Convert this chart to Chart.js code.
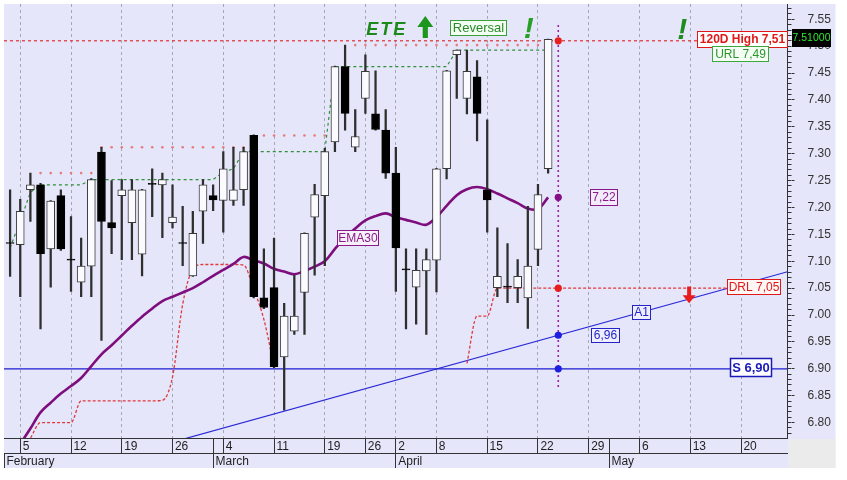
<!DOCTYPE html>
<html><head><meta charset="utf-8">
<script src="https://cdn.jsdelivr.net/npm/chart.js@4.4.1/dist/chart.umd.min.js"></script>
<style>html,body{margin:0;padding:0;background:#fff;overflow:hidden}canvas{display:block}</style>
</head><body>
<canvas id="c" width="847" height="480"></canvas>
<script>
// ---------- DATA ----------
const dates = ['2024-02-02',
 '2024-02-05','2024-02-06','2024-02-07','2024-02-08','2024-02-09',
 '2024-02-12','2024-02-13','2024-02-14','2024-02-15','2024-02-16',
 '2024-02-19','2024-02-20','2024-02-21','2024-02-22','2024-02-23',
 '2024-02-26','2024-02-27','2024-02-28','2024-02-29','2024-03-01',
 '2024-03-04','2024-03-05','2024-03-06','2024-03-07','2024-03-08',
 '2024-03-11','2024-03-12','2024-03-13','2024-03-14','2024-03-15',
 '2024-03-19','2024-03-20','2024-03-21','2024-03-22',
 '2024-03-26','2024-03-27','2024-03-28',
 '2024-04-02','2024-04-03','2024-04-04','2024-04-05',
 '2024-04-08','2024-04-09','2024-04-10','2024-04-11','2024-04-12',
 '2024-04-15','2024-04-16','2024-04-17','2024-04-18','2024-04-19',
 '2024-04-22','2024-04-23','2024-04-24','2024-04-25','2024-04-26',
 '2024-04-29','2024-04-30','2024-05-01','2024-05-02','2024-05-03',
 '2024-05-06','2024-05-07','2024-05-08','2024-05-09','2024-05-10',
 '2024-05-13','2024-05-14','2024-05-15','2024-05-16','2024-05-17',
 '2024-05-20','2024-05-21','2024-05-22','2024-05-23','2024-05-24'];

const open  = [7.135,7.131,7.233,7.242,7.123,7.222,7.104,7.061,7.091,7.303,
 7.172,7.222,7.172,7.113,7.245,7.242,7.172,7.135,7.073,7.193,
 7.222,7.213,7.213,7.233,7.334,7.032,7.051,6.922,6.970,7.042,
 7.182,7.222,7.322,7.462,7.312,7.403,7.374,7.344,7.264,7.086,
 7.052,7.082,7.102,7.272,7.484,7.403,7.443,7.233,7.051,7.054,
 7.051,7.032,7.122,7.272];
const high  = [7.233,7.215,7.264,7.245,7.213,7.233,7.183,7.143,7.254,7.312,
 7.250,7.252,7.252,7.234,7.272,7.264,7.242,7.202,7.193,7.252,
 7.242,7.304,7.312,7.312,7.335,7.123,7.143,7.022,7.074,7.153,
 7.243,7.310,7.463,7.502,7.382,7.484,7.454,7.382,7.312,7.123,
 7.123,7.123,7.273,7.455,7.493,7.4925,7.473,7.363,7.162,7.133,
 7.103,7.202,7.243,7.513];
const low   = [7.072,7.034,7.174,6.974,7.052,7.120,7.044,7.034,7.034,6.953,
 7.114,7.103,7.103,7.073,7.183,7.144,7.162,7.092,7.072,7.133,
 7.194,7.154,7.204,7.204,7.032,7.012,6.902,6.823,6.964,6.964,
 7.074,7.092,7.304,7.344,7.304,7.375,7.344,7.254,7.044,6.974,
 6.983,6.964,7.043,7.253,7.403,7.374,7.324,7.154,7.034,7.023,
 7.023,6.975,7.092,7.264];
const close = [7.133,7.193,7.242,7.114,7.212,7.123,7.102,7.091,7.252,7.174,
 7.162,7.233,7.233,7.233,7.243,7.252,7.182,7.133,7.152,7.242,
 7.214,7.272,7.233,7.304,7.034,7.014,6.904,6.998,6.998,7.152,
 7.224,7.304,7.462,7.375,7.332,7.453,7.345,7.264,7.125,7.084,
 7.083,7.103,7.272,7.454,7.4925,7.453,7.375,7.214,7.072,7.052,
 7.072,7.091,7.224,7.5125];
const ema30 = [6.730,6.760,6.789,6.819,6.837,6.854,6.868,6.883,6.905,6.927,
 6.944,6.962,6.980,6.997,7.012,7.026,7.034,7.042,7.050,7.061,
 7.073,7.084,7.095,7.108,7.102,7.096,7.086,7.081,7.076,7.082,
 7.090,7.100,7.123,7.144,7.161,7.176,7.184,7.189,7.182,7.177,
 7.172,7.168,7.182,7.203,7.223,7.234,7.238,7.234,7.226,7.217,
 7.208,7.198,7.197,7.219];
const urlLine = [7.125,7.175,7.228,7.242,7.242,7.242,7.242,7.242,7.252,7.252,
 7.252,7.252,7.252,7.252,7.252,7.252,7.252,7.252,7.252,7.252,
 7.252,7.266,7.272,7.304,7.304,7.304,7.304,7.304,7.304,7.304,
 7.304,7.304,7.462,7.462,7.462,7.462,7.462,7.462,7.462,7.462,
 7.462,7.462,7.462,7.462,7.4925,7.4925,7.4925,7.4925,7.4925,7.4925,
 7.4925,7.4925,7.4925,7.4925];
const prevHigh = [null,null,null,7.264,7.264,7.264,7.264,7.264,7.264,7.312,
 7.312,7.312,7.312,7.312,7.312,7.312,7.312,7.312,7.312,7.312,
 7.312,7.312,7.312,7.312,7.312,7.334,7.334,7.334,7.334,7.334,
 7.334,7.334,7.334,null,7.502,7.502,7.502,7.502,7.502,7.502,
 7.502,7.502,7.502,7.502,7.502,7.502,7.502,7.502,7.502,7.502,
 7.502,7.502,7.502,7.502];
const drlTrail = [null,6.740,6.771,6.800,6.800,6.800,6.800,6.8405,6.8405,6.8405,
 6.8405,6.8405,6.8405,6.8405,6.8405,6.8415,6.885,7.020,7.085,7.094,
 7.094,7.094,7.094,7.093,7.048,6.992,6.904,null,null,null,
 null,null,null,null,null,null,null,null,null,null,
 null,null,null,null,null,6.910,6.998,6.998,7.050,7.050,
 7.050,7.050,7.050,7.050];

const high120D = 7.51;
const supportS = 6.90;
const drlLevel = 7.05;
const trendA1 = [[17, 6.769], [76.58, 7.0806]];
const markIdx = 54;
const markValues = [7.51, 7.219, 7.05, 6.9625, 6.90];

const dayTickDates = ['2024-02-05','2024-02-12','2024-02-19','2024-02-26','2024-03-04','2024-03-11',
 '2024-03-19','2024-03-26','2024-04-02','2024-04-08','2024-04-15','2024-04-22','2024-04-29',
 '2024-05-06','2024-05-13','2024-05-20'];
const dayTickLabels = ['5','12','19','26','4','11','19','26','2','8','15','22','29','6','13','20'];
const monthStartDates = ['2024-03-01','2024-04-02','2024-05-01'];
const monthLabels = ['February','March','April','May'];
const yTickValues = [6.80,6.85,6.90,6.95,7.00,7.05,7.10,7.15,7.20,7.25,7.30,7.35,7.40,7.45,7.50,7.55];

// ---------- SCALE SETUP ----------
const xMin = -0.6, xMax = 76.58;
const yMin = 6.7714, yMax = 7.5784;
const FONT = '"Liberation Sans", Arial, sans-serif';
Chart.defaults.font.family = FONT;

const dayIdx = dayTickDates.map(d => dates.indexOf(d));
const monthIdx = monthStartDates.map(d => dates.indexOf(d));
const dayAxis = [];
dayIdx.forEach((v, k) => dayAxis.push({v, label: '\u2009' + dayTickLabels[k], grid: true}));
monthIdx.forEach(v => { if (!dayIdx.includes(v)) dayAxis.push({v, label: '', grid: false}); });
dayAxis.sort((a, b) => a.v - b.v);
const monthAxis = [xMin].concat(monthIdx);
const minorTicks = [];
for (let k = 678; k <= 757; k++) minorTicks.push(k / 100);

const series = arr => arr.map((v, i) => ({x: i, y: v}));
const hline = v => [{x: xMin, y: v}, {x: xMax, y: v}];
const noPad = s => { s.paddingTop = 0; s.paddingBottom = 0; s.paddingLeft = 0; s.paddingRight = 0; };

// ---------- PLUGINS ----------
const bgPlugin = {
  id: 'bg',
  beforeDraw(chart) {
    const {ctx, chartArea: a, scales} = chart;
    const right = scales.y.right, bottom = scales.xm.bottom;
    ctx.save();
    ctx.fillStyle = '#ffffff'; ctx.fillRect(0, 0, chart.width, chart.height);
    ctx.fillStyle = '#e6e6fa'; ctx.fillRect(a.left, a.top, right - a.left, bottom - a.top);
    ctx.fillStyle = '#ebebeb'; ctx.fillRect(a.right + 1, a.bottom + 1, right - a.right - 1, bottom - a.bottom - 1);
    ctx.restore();
  }
};

const notes = [
  {kind: 'text', text: 'ETE', x: 37.1, y: 7.5205, font: 'bold italic 18px ' + FONT, color: '#1b8a1b', spacing: '2px'},
  {kind: 'up', x: 40.9, y1: 7.5153, y2: 7.556, color: '#1e961e'},
  {kind: 'box', text: 'Reversal', x: 46.13, y: 7.534, font: '13px ' + FONT, color: '#2a8a2a', border: '#38a038', bg: '#f2fff2', w: 56, h: 15},
  {kind: 'text', text: '!', x: 51.1, y: 7.5155, font: 'bold italic 30px ' + FONT, color: '#28a028'},
  {kind: 'text', text: '!', x: 66.2, y: 7.5125, font: 'bold italic 30px ' + FONT, color: '#1e8c1e'},
  {kind: 'box', text: '120D High 7,51', x: 72.1, y: 7.5125, font: 'bold 12px ' + FONT, color: '#e01818', border: '#e01818', bg: '#ffffff', w: 90, h: 16},
  {kind: 'box', text: 'URL 7,49', x: 71.9, y: 7.4856, font: '12px ' + FONT, color: '#2a962a', border: '#3aa83a', bg: '#f6fff6', w: 56, h: 15},
  {kind: 'box', text: '7,22', x: 58.48, y: 7.2203, font: '12px ' + FONT, color: '#8a1a8a', border: '#8a1a8a', bg: '#f2ecfa', w: 27, h: 16},
  {kind: 'box', text: 'EMA30', x: 34.23, y: 7.1433, font: '12px ' + FONT, color: '#8a1a8a', border: '#8a1a8a', bg: '#f6f0fa', w: 41, h: 15},
  {kind: 'box', text: 'DRL 7,05', x: 73.28, y: 7.0524, font: '12px ' + FONT, color: '#e01818', border: '#e01818', bg: '#fff6f6', w: 53, h: 15},
  {kind: 'box', text: 'A1', x: 62.17, y: 7.006, font: '12px ' + FONT, color: '#2323c8', border: '#2323c8', bg: '#eeeefe', w: 18, h: 14},
  {kind: 'box', text: '6,96', x: 58.57, y: 6.9634, font: '12px ' + FONT, color: '#2323c8', border: '#2323c8', bg: '#eeeefe', w: 28, h: 14},
  {kind: 'box', text: 'S 6,90', x: 72.9, y: 6.903, font: 'bold 13px ' + FONT, color: '#1a1ab8', border: '#1a1ab8', bg: '#ffffff', w: 41, h: 18, bw: 1.5},
  {kind: 'down', x: 66.89, y1: 7.053, y2: 7.0218, color: '#e81c1c'},
  {kind: 'box', text: '7.51000', x: 78.9, y: 7.5153, font: '10.5px ' + FONT, color: '#2ee82e', border: '#000000', bg: '#000000', w: 38, h: 17}
];

const notePlugin = {
  id: 'notes',
  afterDatasetsDraw(chart) {
    const {ctx, scales: {x, y}} = chart;
    ctx.save();
    notes.forEach(n => {
      const px = x.getPixelForValue(n.x);
      if (n.kind === 'box') {
        const py = y.getPixelForValue(n.y);
        const x0 = Math.round(px - n.w / 2) + 0.5, y0 = Math.round(py - n.h / 2) + 0.5;
        ctx.fillStyle = n.bg; ctx.fillRect(x0, y0, n.w, n.h);
        ctx.strokeStyle = n.border; ctx.lineWidth = n.bw || 1; ctx.strokeRect(x0, y0, n.w, n.h);
        ctx.font = n.font; ctx.fillStyle = n.color; ctx.textAlign = 'center'; ctx.textBaseline = 'middle';
        ctx.fillText(n.text, x0 + n.w / 2, y0 + n.h / 2 + 0.5);
      } else if (n.kind === 'text') {
        const py = y.getPixelForValue(n.y);
        ctx.font = n.font; ctx.fillStyle = n.color; ctx.textAlign = 'center'; ctx.textBaseline = 'alphabetic';
        ctx.letterSpacing = n.spacing || '0px';
        ctx.fillText(n.text, px, py);
        ctx.letterSpacing = '0px';
      } else if (n.kind === 'up' || n.kind === 'down') {
        const pb = y.getPixelForValue(n.y1), pt = y.getPixelForValue(n.y2);
        ctx.fillStyle = n.color; ctx.beginPath();
        if (n.kind === 'up') {
          const hh = 11, hw = 8, sw = 2.6;
          ctx.moveTo(px, pt); ctx.lineTo(px + hw, pt + hh); ctx.lineTo(px + sw, pt + hh);
          ctx.lineTo(px + sw, pb); ctx.lineTo(px - sw, pb); ctx.lineTo(px - sw, pt + hh);
          ctx.lineTo(px - hw, pt + hh);
        } else {
          const hh = 8, hw = 6.5, sw = 2;
          ctx.moveTo(px - sw, pb); ctx.lineTo(px + sw, pb); ctx.lineTo(px + sw, pt - hh);
          ctx.lineTo(px + hw, pt - hh); ctx.lineTo(px, pt); ctx.lineTo(px - hw, pt - hh);
          ctx.lineTo(px - sw, pt - hh);
        }
        ctx.closePath(); ctx.fill();
      }
    });
    ctx.restore();
  }
};

// ---------- CHART ----------
const isUp = i => close[i] >= open[i];
new Chart(document.getElementById('c'), {
  type: 'line',
  data: {
    datasets: [
      {type: 'line', label: 'marks', data: markValues.map(v => ({x: markIdx, y: v})), showLine: false,
       pointRadius: 3.6, pointBorderWidth: 0,
       pointBackgroundColor: ['#e61e1e', '#850f85', '#e61e1e', '#1e1ee0', '#1e1ee0'], order: 0, clip: false},
      {type: 'bar', label: 'body', data: open.map((o, i) => ({x: i, y: [o, close[i]]})),
       backgroundColor: c => isUp(c.dataIndex) ? '#fbfbff' : '#000000',
       borderColor: c => isUp(c.dataIndex) ? '#3a3a3a' : '#000000',
       borderWidth: 1, borderSkipped: false, barThickness: 8, grouped: false, order: 1},
      {type: 'bar', label: 'wick', data: low.map((l, i) => ({x: i, y: [l, high[i]]})),
       backgroundColor: '#2e2e2e', borderWidth: 0, barThickness: 1.6, grouped: false, order: 2},
      {label: 'mark line', data: [{x: markIdx, y: 6.866}, {x: markIdx, y: 7.544}], borderColor: '#a0209a',
       borderWidth: 1.6, borderDash: [2, 3], pointRadius: 0, order: 3},
      {label: 'EMA30', data: series(ema30), borderColor: '#7e0e7e', borderWidth: 2.6, pointRadius: 0,
       tension: 0.35, order: 4},
      {label: 'URL', data: series(urlLine), borderColor: '#2f8f3a', borderWidth: 1.2, borderDash: [3, 3],
       pointRadius: 0, order: 5},
      {label: 'prev high', data: series(prevHigh), showLine: false, pointRadius: 1.3, pointBorderWidth: 0,
       pointBackgroundColor: '#e57b7b', order: 5},
      {label: 'DRL trail', data: series(drlTrail), borderColor: '#e2383c', borderWidth: 1.3, borderDash: [3, 2],
       cubicInterpolationMode: 'monotone', pointRadius: 0, spanGaps: false, order: 5},
      {label: 'DRL', data: [{x: dates.length - 24, y: drlLevel}, {x: 73, y: drlLevel}], borderColor: '#e2383c',
       borderWidth: 1.3, borderDash: [3, 2], pointRadius: 0, order: 5},
      {label: '120D High', data: hline(high120D), borderColor: '#e23030', borderWidth: 1.2, borderDash: [3, 3],
       pointRadius: 0, order: 6},
      {label: 'S', data: hline(supportS), borderColor: '#1c1cd0', borderWidth: 1.2, pointRadius: 0, order: 6},
      {label: 'A1', data: trendA1.map(p => ({x: p[0], y: p[1]})), borderColor: '#2a2ad8', borderWidth: 1.2,
       pointRadius: 0, order: 6}
    ]
  },
  options: {
    responsive: false, animation: false, devicePixelRatio: 1, events: [],
    layout: {padding: {left: 3, top: 3, right: 11.5, bottom: 12}},
    plugins: {legend: {display: false}, tooltip: {enabled: false}},
    scales: {
      x: {
        type: 'linear', position: 'bottom', weight: 0, min: xMin, max: xMax, offset: false,
        afterBuildTicks: s => { s.ticks = dayAxis.map(t => ({value: t.v})); },
        afterFit: s => { s.height = 15; noPad(s); },
        ticks: {autoSkip: false, maxRotation: 0, minRotation: 0, align: 'start', padding: -14,
                color: '#1e1e1e', font: {size: 12}, callback: (v, i) => dayAxis[i] ? dayAxis[i].label : ''},
        grid: {drawOnChartArea: true, drawTicks: true, tickLength: 15, offset: false, lineWidth: 1,
               color: c => (dayAxis[c.index] && !dayAxis[c.index].grid) ? 'rgba(0,0,0,0)' : '#a6a6b4',
               tickColor: '#333333', tickWidth: 1},
        border: {display: true, color: '#333333', width: 1, dash: [3, 3]}
      },
      xm: {
        axis: 'x', type: 'linear', position: 'bottom', weight: 1, min: xMin, max: xMax, offset: false,
        afterBuildTicks: s => { s.ticks = monthAxis.map(v => ({value: v})); },
        afterFit: s => { s.height = 15; noPad(s); },
        ticks: {autoSkip: false, maxRotation: 0, minRotation: 0, align: 'start', padding: -14,
                color: '#1e1e1e', font: {size: 12}, callback: (v, i) => '\u2009' + monthLabels[i]},
        grid: {drawOnChartArea: false, drawTicks: true, tickLength: 15, tickColor: '#333333', offset: false},
        border: {display: true, color: '#333333', width: 1}
      },
      ym: {
        axis: 'y', type: 'linear', position: 'right', weight: 0, min: yMin, max: yMax,
        afterBuildTicks: s => { s.ticks = minorTicks.map(v => ({value: v})); },
        afterFit: s => { s.width = 4; noPad(s); },
        ticks: {display: false},
        grid: {drawOnChartArea: false, drawTicks: true, tickLength: 4, tickColor: '#333333'},
        border: {display: true, color: '#333333', width: 1}
      },
      y: {
        type: 'linear', position: 'right', weight: 1, min: yMin, max: yMax,
        afterBuildTicks: s => { s.ticks = yTickValues.map(v => ({value: v})); },
        afterFit: s => { s.width = 44; noPad(s); },
        ticks: {padding: 13, color: '#333333', font: {size: 12}, callback: v => v.toFixed(2)},
        grid: {drawOnChartArea: false, drawTicks: true, tickLength: 3, tickColor: '#333333'},
        border: {display: false}
      }
    }
  },
  plugins: [bgPlugin, notePlugin]
});
</script>
</body></html>
